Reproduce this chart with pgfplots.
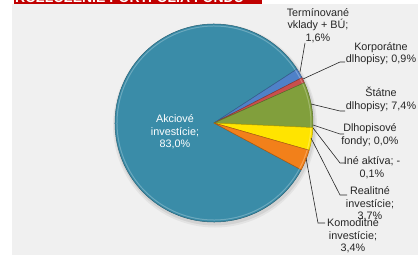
\documentclass[border=0pt]{standalone}
\usepackage{pgfplots}
\pgfplotsset{compat=1.18}
\usepackage{pgfplotstable}
\usetikzlibrary{calc}
\usepackage{fontspec}
\setmainfont{Liberation Sans}
\definecolor{cAkc}{HTML}{3A8CA8}
\definecolor{cTerm}{HTML}{4F81C8}
\definecolor{cKorp}{HTML}{C84F4C}
\definecolor{cStat}{HTML}{819F3C}
\definecolor{cDlh}{HTML}{8064A2}
\definecolor{cIne}{HTML}{4BACC6}
\definecolor{cReal}{HTML}{FFE400}
\definecolor{cKom}{HTML}{F2801A}
\definecolor{bg}{HTML}{F0F0F0}
\definecolor{hdr}{HTML}{C00000}
\definecolor{txt}{HTML}{262626}
\tikzset{lbl/.style={align=center,text=txt,inner sep=0pt,font=\fontsize{10.8}{12.6}\selectfont}}

\pgfplotstableread{
value color
83.0 cAkc
1.6 cTerm
0.9 cKorp
7.4 cStat
0.0 cDlh
-0.1 cIne
3.7 cReal
3.4 cKom
}\piedata

\begin{document}
\begin{tikzpicture}
\begin{axis}[x=1pt,y=1pt,xmin=0,xmax=418,ymin=0,ymax=255,hide axis,clip=false]
\pgfplotsextra{
 \fill[white] (axis cs:0,0) rectangle (axis cs:418,255);
 \fill[bg] (axis cs:12,0) rectangle (axis cs:418,251);
 \fill[hdr] (axis cs:14,251) rectangle (axis cs:262,255);
 \begin{scope}
  \clip (axis cs:14,251) rectangle (axis cs:262,255);
  \node[anchor=base west,text=white,font=\fontsize{14}{14}\selectfont\bfseries,inner sep=0pt] at (axis cs:15,252.5) {ROZLOŽENIE PORTFÓLIA FONDU};
 \end{scope}
 \fill[black,opacity=0.05] (axis cs:215,129.5) circle[radius=102pt];
 \fill[black,opacity=0.07] (axis cs:215,130) circle[radius=100.5pt];
 \def\curang{331.8}
 \pgfplotsforeachungrouped \i in {0,...,7} {
   \pgfplotstablegetelem{\i}{value}\of\piedata \let\val\pgfplotsretval
   \pgfplotstablegetelem{\i}{color}\of\piedata \let\col\pgfplotsretval
   \pgfmathsetmacro\endang{\curang-3.6*max(\val,0)}
   \ifdim\val pt>0pt
     \fill[\col,draw=\col!70!black,line width=0.5pt,line join=round]
       (axis cs:214,132) -- ++(\curang:99pt) arc[start angle=\curang,end angle=\endang,radius=99pt] -- cycle;
     \draw[white,opacity=0.25,line width=1pt]
       ($(axis cs:214,132)+(\curang:97pt)$) arc[start angle=\curang,end angle=\endang,radius=97pt];
   \fi
   \global\let\curang\endang
 }
}
% leader lines
\addplot[txt,line width=0.6pt,mark=none] coordinates {(300,183) (305,212)};
\addplot[txt,line width=0.6pt,mark=none] coordinates {(303,176) (340,193) (345,193)};
\addplot[txt,line width=0.6pt,mark=none] coordinates {(311,151) (340,144) (345,144)};
\addplot[txt,line width=0.6pt,mark=none] coordinates {(313,130) (340,121) (344,121)};
\addplot[txt,line width=0.6pt,mark=none] coordinates {(313,127) (340,92) (345,92)};
\addplot[txt,line width=0.6pt,mark=none] coordinates {(311,117) (340,60) (347,60)};
\addplot[txt,line width=0.6pt,mark=none] coordinates {(306,97) (318,32) (325,32)};
% labels
\node[lbl,text=white] at (axis cs:175,123) {Akciové\\investície;\\83,0\%};
\node[lbl] at (axis cs:318,229.5) {Termínované\\vklady + BÚ;\\1,6\%};
\node[lbl] at (axis cs:381,201.5) {Korporátne\\dlhopisy; 0,9\%};
\node[lbl] at (axis cs:381,155.5) {Štátne\\dlhopisy; 7,4\%};
\node[lbl] at (axis cs:370,120) {Dlhopisové\\fondy; 0,0\%};
\node[lbl] at (axis cs:372,87) {Iné aktíva; -\\0,1\%};
\node[lbl] at (axis cs:370,51) {Realitné\\investície;\\3,7\%};
\node[lbl] at (axis cs:353,19) {Komoditné\\investície;\\3,4\%};
\end{axis}
\pgfresetboundingbox
\path (current axis.south west) rectangle (current axis.north east);
\end{tikzpicture}
\end{document}
